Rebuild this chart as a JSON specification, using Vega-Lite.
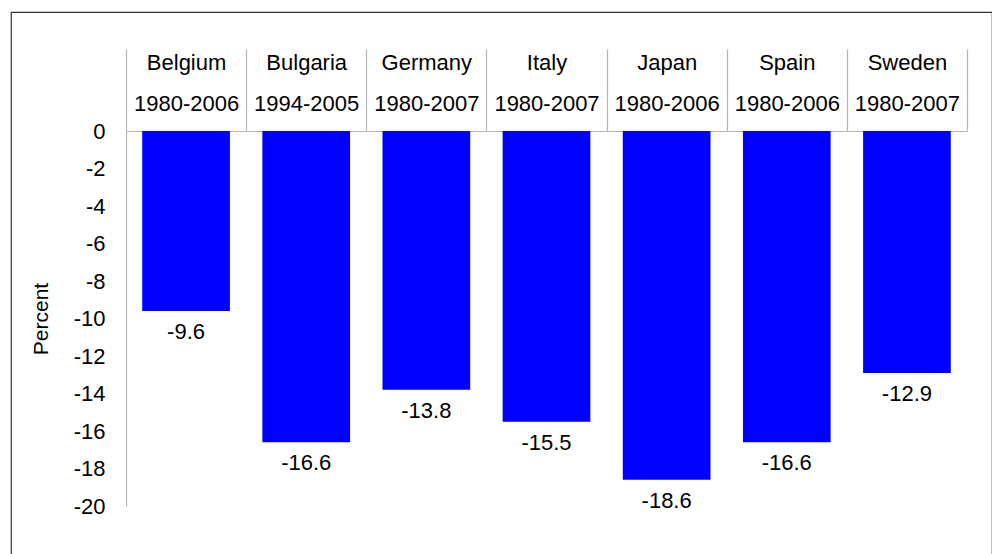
{
  "$schema": "https://vega.github.io/schema/vega-lite/v6.json",
  "autosize": "none",
  "padding": {"left": 11, "top": 12, "right": 0, "bottom": 0},
  "width": 981,
  "height": 560,
  "background": "white",
  "config": {
    "font": "Liberation Sans",
    "view": {"stroke": "#333333", "strokeWidth": 1.2},
    "axis": {"grid": false, "labelFont": "Liberation Sans", "titleFont": "Liberation Sans", "labelColor": "#000000", "titleColor": "#000000"}
  },
  "data": {
    "values": [
      {"country": "Belgium", "period": "1980-2006", "value": -9.6},
      {"country": "Bulgaria", "period": "1994-2005", "value": -16.6},
      {"country": "Germany", "period": "1980-2007", "value": -13.8},
      {"country": "Italy", "period": "1980-2007", "value": -15.5},
      {"country": "Japan", "period": "1980-2006", "value": -18.6},
      {"country": "Spain", "period": "1980-2006", "value": -16.6},
      {"country": "Sweden", "period": "1980-2007", "value": -12.9}
    ]
  },
  "transform": [{"calculate": "datum.country + '|' + datum.period", "as": "label"}],
  "encoding": {
    "x": {
      "field": "label",
      "type": "nominal",
      "sort": null,
      "scale": {"range": [115, 956], "paddingInner": 0, "paddingOuter": 0},
      "axis": {
        "orient": "top",
        "offset": -119,
        "title": null,
        "labelAngle": 0,
        "labelExpr": "isString(datum.value) ? split(datum.value, '|') : ''",
        "labelFontSize": 22,
        "labelLineHeight": 41,
        "labelBaseline": "middle",
        "labelPadding": -13,
        "tickBand": "extent",
        "tickSize": 82,
        "tickColor": "#b5b5b5",
        "tickWidth": 1.2,
        "domainColor": "#b5b5b5",
        "domainWidth": 1.2
      }
    },
    "y": {
      "field": "value",
      "type": "quantitative",
      "scale": {"domain": [-20, 0], "range": [494, 119], "nice": false},
      "axis": {
        "offset": -115,
        "title": "Percent",
        "titleFontSize": 21,
        "titleFontWeight": "normal",
        "titlePadding": 22,
        "values": [0, -2, -4, -6, -8, -10, -12, -14, -16, -18, -20],
        "labelExpr": "replace(datum.label, '\u2212', '-')",
        "ticks": false,
        "labelPadding": 21,
        "labelFontSize": 22,
        "domainColor": "#b5b5b5",
        "domainWidth": 1.2
      }
    }
  },
  "layer": [
    {"mark": {"type": "bar", "color": "#0000FF", "width": {"band": 0.73}}},
    {
      "mark": {"type": "text", "baseline": "middle", "dy": 21, "fontSize": 22, "color": "#000000"},
      "encoding": {"text": {"field": "value", "type": "nominal"}}
    }
  ]
}
